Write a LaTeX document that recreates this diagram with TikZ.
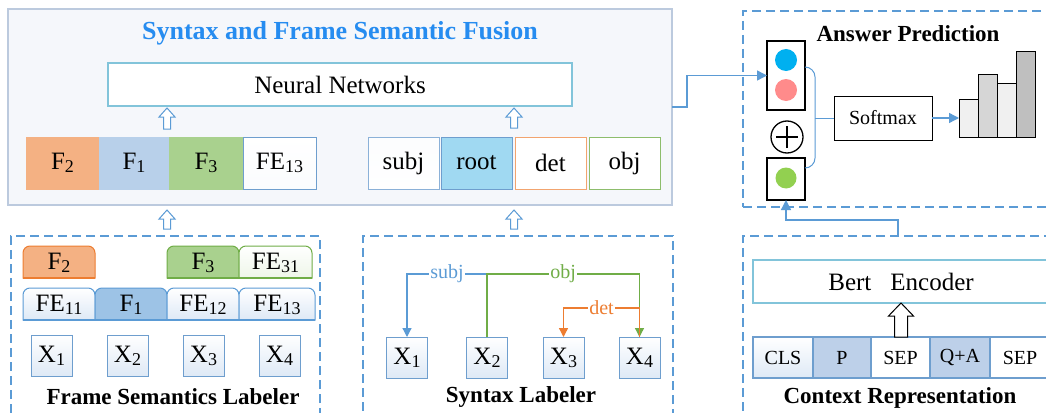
\documentclass[tikz,border=0pt]{standalone}
\usepackage{fontspec}
\setmainfont{Liberation Serif}
\usetikzlibrary{arrows.meta}
\definecolor{lblue}{RGB}{91,155,213}
\definecolor{titleblue}{RGB}{38,140,240}
\definecolor{fusfill}{RGB}{245,247,251}
\definecolor{fusborder}{RGB}{188,202,222}
\definecolor{teal}{RGB}{130,196,218}
\definecolor{orangef}{RGB}{244,177,131}
\definecolor{oranged}{RGB}{237,125,49}
\definecolor{bluef}{RGB}{184,208,234}
\definecolor{greenf}{RGB}{169,209,142}
\definecolor{greend}{RGB}{112,173,71}
\definecolor{rootf}{RGB}{160,217,242}
\definecolor{boxb}{RGB}{110,158,206}
\definecolor{xbot}{RGB}{222,233,246}
\definecolor{tabblue}{RGB}{157,195,230}
\definecolor{tokf}{RGB}{189,208,233}
\definecolor{cblue}{RGB}{0,176,240}
\definecolor{cpink}{RGB}{255,139,139}
\definecolor{cgreen}{RGB}{146,208,80}
\definecolor{barA}{RGB}{240,240,240}
\definecolor{barB}{RGB}{214,214,214}
\definecolor{barD}{RGB}{191,191,191}
\newcommand\fs[1]{\fontsize{#1}{#1}\selectfont}
\newcommand\sub[1]{\raisebox{-3pt}{\fontsize{18}{18}\selectfont #1}}
% tab: x1 x2 y1 y2 fillopts drawcolor
\newcommand\tabpath[6]{\path[#5, draw=#6, line width=1pt] (#1,#4) -- (#1,{#3+7}) arc[start angle=180, end angle=270, radius=7] -- ({#2-7},#3) arc[start angle=270, end angle=360, radius=7] -- (#2,#4) -- cycle;
\draw[draw=#6, line width=2pt] (#1,#4) -- (#2,#4);}
% hollow arrow: x ybase ytip shafthalf headhalf headlen color
\newcommand\hollow[7]{\draw[draw=#7, fill=white, line width=1pt, line join=miter] ({#1-#4},#2) -- ({#1-#4},{#3+#6}) -- ({#1-#5},{#3+#6}) -- (#1,#3) -- ({#1+#5},{#3+#6}) -- ({#1+#4},{#3+#6}) -- ({#1+#4},#2) -- cycle;}
\begin{document}
\begin{tikzpicture}[x=1pt,y=-1pt,
  every node/.style={inner sep=0pt, outer sep=0pt},
  rowbox/.style={line width=1pt, minimum height=52pt, font=\fs{25}},
  xbox/.style={draw=boxb, line width=1pt, top color=white, bottom color=xbot, minimum width=41pt, minimum height=41pt, font=\fs{25}},
  tok/.style={draw=boxb, line width=1.2pt, minimum height=41pt, font=\fs{20}},
  dbox/.style={draw=lblue, line width=1.3pt, dash pattern=on 9pt off 5pt},
  conn/.style={draw=lblue, line width=1.3pt},
  arr/.style={conn, -{Triangle[length=10pt,width=10pt]}},
  lab/.style={font=\bfseries\fs{23}},
  deplab/.style={fill=white, font=\fs{20}, inner xsep=1pt},
]
\clip (0,0) rectangle (1046,412);
\fill[white] (0,0) rectangle (1046,412);

% ---------- Fusion block ----------
\node[draw=fusborder, fill=fusfill, line width=1.2pt, minimum width=664pt, minimum height=196pt] (fusion) at (340,107) {};
\node[font=\bfseries\fs{26}, text=titleblue] (title) at (340,33) {Syntax and Frame Semantic Fusion};
\node[draw=teal, fill=white, line width=1.2pt, minimum width=464pt, minimum height=43pt, font=\fs{25}] (nn) at (340,84.5) {Neural Networks};

\node[rowbox, fill=orangef, draw=orangef, minimum width=73pt] (uF2) at (62.5,163) {F\sub{2}};
\node[rowbox, fill=bluef, draw=bluef, minimum width=70pt] (uF1) at (134,163) {F\sub{1}};
\node[rowbox, fill=greenf, draw=greenf, minimum width=74pt] (uF3) at (206,163) {F\sub{3}};
\node[rowbox, draw=boxb, top color=white, bottom color=white!85!xbot, minimum width=73pt] (uFE) at (279.5,163) {FE\sub{13}};

\node[rowbox, draw=boxb!80, top color=white!90!xbot, bottom color=white, minimum width=71pt] (usubj) at (403.5,163) {subj};
\node[rowbox, draw=boxb, fill=rootf, minimum width=71pt] (uroot) at (476.5,163) {root};
\node[rowbox, draw=oranged!70, fill=white, minimum width=71pt] (udet) at (550.5,163) {det};
\node[rowbox, draw=greend!80, fill=white, minimum width=71pt] (uobj) at (624.5,163) {obj};

\hollow{167}{129}{108}{3.5}{8}{9}{lblue}
\hollow{514}{128}{108}{3.5}{8}{9}{lblue}

% ---------- Frame Semantics Labeler ----------
\node[dbox, minimum width=309pt, minimum height=194pt] (fsl) at (165.5,333) {};
\hollow{167}{229}{210}{3.5}{8}{9}{lblue}
\tabpath{23}{95}{246}{278}{fill=orangef}{oranged}
\tabpath{167}{239}{246}{278}{fill=greenf}{greend}
\tabpath{239}{312}{246}{278}{top color=white, bottom color=white!80!greenf}{greend}
\tabpath{23}{95}{288}{320}{top color=white, bottom color=xbot}{lblue}
\tabpath{95}{167}{288}{320}{fill=tabblue}{lblue}
\tabpath{167}{239}{288}{320}{top color=white, bottom color=xbot}{lblue}
\tabpath{239}{315}{288}{320}{top color=white, bottom color=xbot}{lblue}
\node[font=\fs{25}] (tF2) at (59,263) {F\sub{2}};
\node[font=\fs{25}] (tF3) at (203,263) {F\sub{3}};
\node[font=\fs{25}] (tFE31) at (275.5,263) {FE\sub{31}};
\node[font=\fs{25}] (tFE11) at (59,305) {FE\sub{11}};
\node[font=\fs{25}] (tF1) at (131,305) {F\sub{1}};
\node[font=\fs{25}] (tFE12) at (203,305) {FE\sub{12}};
\node[font=\fs{25}] (tFE13) at (277,305) {FE\sub{13}};
\node[xbox] (fX1) at (51.5,355.5) {X\sub{1}};
\node[xbox] (fX2) at (127.5,355.5) {X\sub{2}};
\node[xbox] (fX3) at (203.5,355.5) {X\sub{3}};
\node[xbox] (fX4) at (279.5,355.5) {X\sub{4}};
\node[lab] (fslab) at (173,397) {Frame Semantics Labeler};

% ---------- Syntax Labeler ----------
\node[dbox, minimum width=310pt, minimum height=194pt] (syl) at (518,333) {};
\hollow{514}{229}{210}{3.5}{8}{9}{lblue}
\node[xbox] (sX1) at (407,357.5) {X\sub{1}};
\node[xbox] (sX2) at (487,357.5) {X\sub{2}};
\node[xbox] (sX3) at (563.5,357.5) {X\sub{3}};
\node[xbox] (sX4) at (639.5,357.5) {X\sub{4}};
\coordinate (hub) at (sX2.north |- 0,274);
\draw[conn, -{Triangle[length=9pt,width=9pt]}] (hub) -| node[deplab, pos=0.25, text=lblue] (lsubj) {subj} (sX1.north);
\draw[draw=greend, line width=1.3pt, -{Triangle[length=9pt,width=9pt]}] (sX2.north) -- (hub) -| node[deplab, pos=0.25, text=greend] (lobj) {obj} (sX4.north);
\draw[draw=oranged, line width=1.3pt] (sX4.north) -- (sX4.north |- 0,308);
\draw[draw=oranged, line width=1.3pt, -{Triangle[length=9pt,width=9pt]}] (sX4.north |- 0,308) -| node[deplab, pos=0.25, text=oranged] (ldet) {det} (sX3.north);
\node[lab] (sylab) at (521,397) {Syntax Labeler};

% ---------- Answer Prediction ----------
\node[dbox, minimum width=317pt, minimum height=196pt] (ans) at (901.5,109) {};
\node[lab] (anslab) at (908,34) {Answer Prediction};
\node[draw, line width=1.6pt, minimum width=38pt, minimum height=69pt] (vecA) at (786,75.5) {};
\node[circle, fill=cblue, minimum size=22pt] (cb) at (786,60) {};
\node[circle, fill=cpink, minimum size=22pt] (cp) at (786,90) {};
\node[circle, draw, line width=1.3pt, minimum size=32pt] (oplus) at (787,137) {};
\draw[line width=1.6pt] ([xshift=-11pt]oplus.center) -- ([xshift=11pt]oplus.center);
\draw[line width=1.6pt] ([yshift=-11pt]oplus.center) -- ([yshift=11pt]oplus.center);
\node[draw, line width=1.6pt, minimum width=38pt, minimum height=42pt] (vecB) at (786,179) {};
\node[circle, fill=cgreen, minimum size=21pt] (cg) at (786,178) {};
\node[draw, line width=1pt, minimum width=98pt, minimum height=44pt, font=\fs{20}] (soft) at (883,118) {Softmax};
\draw[draw=lblue, line width=1pt] (vecA.east |- 0,67) to[out=0,in=90] (815,77) -- (815,158) to[out=-90,in=0] (vecB.east |- 0,168);
\draw[draw=lblue, line width=1pt] (815,118) -- (soft.west);
\node[draw, line width=1pt, fill=barA, minimum width=19pt, minimum height=38pt, anchor=south west] (bar1) at (959,137) {};
\node[draw, line width=1pt, fill=barB, minimum width=19pt, minimum height=63pt, anchor=south west] (bar2) at (978,137) {};
\node[draw, line width=1pt, fill=barA, minimum width=19pt, minimum height=54pt, anchor=south west] (bar3) at (997,137) {};
\node[draw, line width=1pt, fill=barD, minimum width=19pt, minimum height=85pt, anchor=south west] (bar4) at (1016,137) {};
\draw[arr] (soft.east) -- (bar1.west);
\draw[arr] (fusion.east) -- ++(15,0) |- (vecA.west);

% ---------- Context Representation ----------
\node[dbox, minimum width=317pt, minimum height=194pt] (ctx) at (901.5,333) {};
\coordinate (ctop) at (898,236);
\draw[arr] (ctop) -- (898,220) -| (vecB.south);
\node[draw=teal, fill=white, line width=1.2pt, minimum width=296pt, minimum height=43pt, font=\fs{25}] (bert) at (901,281.5) {Bert\hspace{19pt}Encoder};
\node[tok, top color=white, bottom color=xbot, minimum width=60pt] (tCLS) at (783,357.5) {CLS};
\node[tok, fill=tokf, minimum width=58pt] (tP) at (842,357.5) {P};
\node[tok, fill=white, minimum width=59pt] (tSEP) at (900.5,357.5) {SEP};
\node[tok, fill=tokf, minimum width=60pt] (tQA) at (960,357.5) {Q+A};
\node[tok, fill=white, minimum width=60pt] (tSEPb) at (1020,357.5) {SEP};
\hollow{901}{337}{303}{6.5}{12.5}{13}{black}
\node[lab] (ctxlab) at (900,398) {Context Representation};
\end{tikzpicture}
\end{document}
